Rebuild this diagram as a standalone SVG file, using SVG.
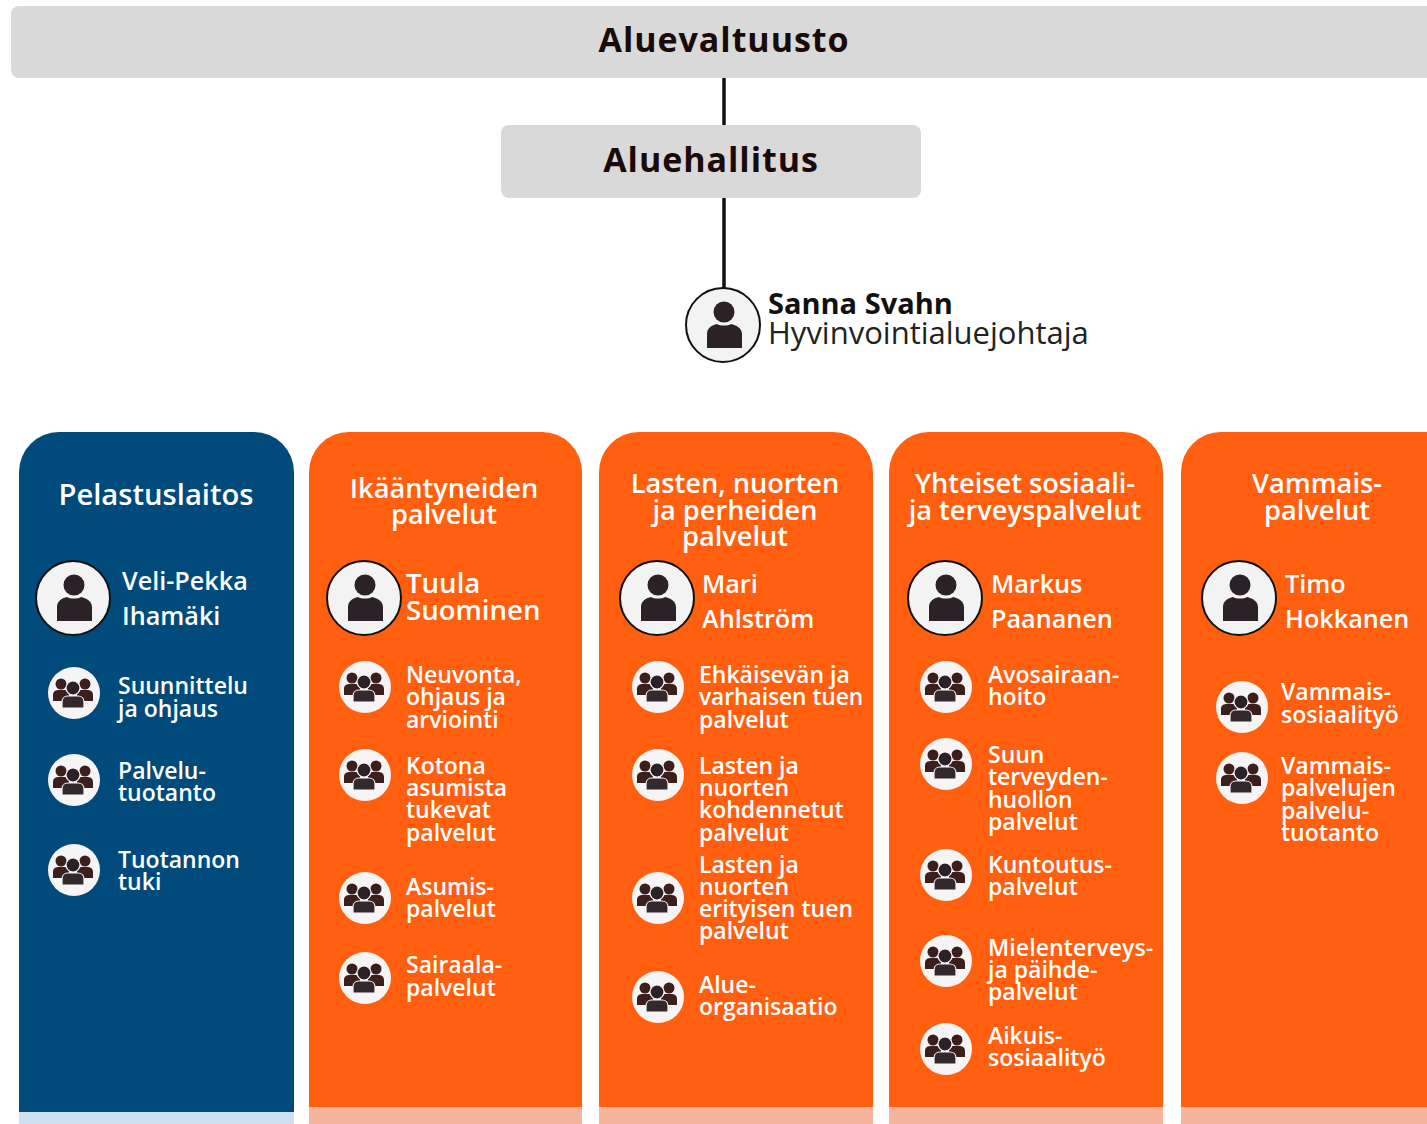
<svg xmlns="http://www.w3.org/2000/svg" width="1427" height="1124" viewBox="0 0 1427 1124">
<style>
text{font-family:"Open Sans","Noto Sans","Liberation Sans",sans-serif}
.bar{fill:#d9d9d9}
.conn{stroke:#111;stroke-width:3.5;fill:none}
.title{font-size:34px;font-weight:700;fill:#1a0a0a;text-anchor:middle;letter-spacing:.95px}
.hd{font-size:27.2px;font-weight:600;fill:#fff;text-anchor:middle}
.nm{font-size:25.2px;font-weight:600;fill:#fff}
.it{font-size:23px;font-weight:600;fill:#fff}
.blue{fill:#004a7c}.or{fill:#ff5f0f}
.blueS{fill:#cfe0f0}.orS{fill:#f6b49c}
.ic{fill:#2a2226}
</style>
<defs>
<g id="person">
<circle r="37" fill="#f4f3f3" stroke="#111" stroke-width="2"/>
<circle cx="1" cy="-13" r="10.5" class="ic"/>
<path class="ic" d="M-16 23V9c0-6 5-9 10-10 3 2 11 2 14 0 5 1 11 4 11 10v14z"/>
</g>
<g id="group">
<circle r="26" fill="#f6f4f4"/>
<circle cx="-13" cy="-9" r="5.5" fill="#3a1f1c"/><circle cx="11" cy="-9" r="5.5" fill="#3a1f1c"/>
<path fill="#3a1f1c" d="M-21 8V2c0-4 3-5 6-5h5c3 0 5 2 5 5v6zM3 8V2c0-3 2-5 5-5h5c3 0 6 1 6 5v6z"/>
<circle cx="-1" cy="-5" r="7" fill="#2a2226" stroke="#f6f4f4" stroke-width="1.2"/>
<path fill="#33282c" stroke="#f6f4f4" stroke-width="1.2" d="M-12 15V9c0-5 4-6 6-6h10c3 0 6 2 6 6v6z"/>
</g>
</defs>
<g id="connectors">
<path class="conn" d="M724 78V125M724 198V288"/>
</g>
<g id="aluevaltuusto">
<rect class="bar" x="11" y="6" width="1430" height="72" rx="8"/>
<text class="title" x="724" y="52">Aluevaltuusto</text>
</g>
<g id="aluehallitus">
<rect class="bar" x="501" y="125" width="420" height="73" rx="8"/>
<text class="title" x="711" y="172">Aluehallitus</text>
</g>
<g id="johtaja">
<use href="#person" x="723" y="325"/>
<text x="768" y="314" style="font-size:29px;font-weight:700;fill:#111">Sanna Svahn</text>
<text x="768" y="344" style="font-size:31px;fill:#222">Hyvinvointialuejohtaja</text>
</g>
<g id="pelastuslaitos">
<path class="blueS" d="M19 1100H294V1124H19z"/>
<path class="blue" d="M19 1112V472a40 40 0 0 1 40-40H254a40 40 0 0 1 40 40V1112z"/>
<text class="hd" x="156" y="505" style="font-size:29.2px">Pelastuslaitos</text>
<use href="#person" x="73" y="598"/>
<text class="nm" x="122" y="590">Veli-Pekka</text>
<text class="nm" x="122" y="625">Ihamäki</text>
<use href="#group" x="74" y="693"/>
<text class="it" x="118" y="694">Suunnittelu</text>
<text class="it" x="118" y="717">ja ohjaus</text>
<use href="#group" x="74" y="780"/>
<text class="it" x="118" y="779">Palvelu-</text>
<text class="it" x="118" y="801">tuotanto</text>
<use href="#group" x="74" y="870"/>
<text class="it" x="118" y="868">Tuotannon</text>
<text class="it" x="118" y="890">tuki</text>
</g>
<g id="ikaantyneiden">
<path class="orS" d="M309 1100H582V1124H309z"/>
<path class="or" d="M309 1107V472a40 40 0 0 1 40-40H542a40 40 0 0 1 40 40V1107z"/>
<text class="hd" x="444" y="498">Ikääntyneiden</text>
<text class="hd" x="444" y="524">palvelut</text>
<use href="#person" x="364" y="598"/>
<text class="nm" x="406" y="593" style="font-size:27.6px">Tuula</text>
<text class="nm" x="406" y="620" style="font-size:27.6px">Suominen</text>
<use href="#group" x="365" y="687"/>
<text class="it" x="406" y="683">Neuvonta,</text>
<text class="it" x="406" y="705">ohjaus ja</text>
<text class="it" x="406" y="728">arviointi</text>
<use href="#group" x="365" y="775"/>
<text class="it" x="406" y="774">Kotona</text>
<text class="it" x="406" y="796">asumista</text>
<text class="it" x="406" y="818">tukevat</text>
<text class="it" x="406" y="841">palvelut</text>
<use href="#group" x="365" y="898"/>
<text class="it" x="406" y="895">Asumis-</text>
<text class="it" x="406" y="917">palvelut</text>
<use href="#group" x="365" y="978"/>
<text class="it" x="406" y="973">Sairaala-</text>
<text class="it" x="406" y="996">palvelut</text>
</g>
<g id="lasten">
<path class="orS" d="M599 1100H873V1124H599z"/>
<path class="or" d="M599 1107V472a40 40 0 0 1 40-40H833a40 40 0 0 1 40 40V1107z"/>
<text class="hd" x="735" y="493">Lasten, nuorten</text>
<text class="hd" x="735" y="520">ja perheiden</text>
<text class="hd" x="735" y="546">palvelut</text>
<use href="#person" x="657" y="598"/>
<text class="nm" x="702" y="593">Mari</text>
<text class="nm" x="702" y="628">Ahlström</text>
<use href="#group" x="658" y="687"/>
<text class="it" x="699" y="683">Ehkäisevän ja</text>
<text class="it" x="699" y="705" style="font-size:22.7px">varhaisen tuen</text>
<text class="it" x="699" y="728">palvelut</text>
<use href="#group" x="658" y="775"/>
<text class="it" x="699" y="774">Lasten ja</text>
<text class="it" x="699" y="796">nuorten</text>
<text class="it" x="699" y="818">kohdennetut</text>
<text class="it" x="699" y="841">palvelut</text>
<use href="#group" x="658" y="898"/>
<text class="it" x="699" y="873">Lasten ja</text>
<text class="it" x="699" y="895">nuorten</text>
<text class="it" x="699" y="917">erityisen tuen</text>
<text class="it" x="699" y="939">palvelut</text>
<use href="#group" x="658" y="997"/>
<text class="it" x="699" y="993">Alue-</text>
<text class="it" x="699" y="1015">organisaatio</text>
</g>
<g id="yhteiset">
<path class="orS" d="M889 1100H1163V1124H889z"/>
<path class="or" d="M889 1107V472a40 40 0 0 1 40-40H1123a40 40 0 0 1 40 40V1107z"/>
<text class="hd" x="1025" y="493">Yhteiset sosiaali-</text>
<text class="hd" x="1025" y="520">ja terveyspalvelut</text>
<use href="#person" x="945" y="598"/>
<text class="nm" x="991" y="593">Markus</text>
<text class="nm" x="991" y="628">Paananen</text>
<use href="#group" x="946" y="687"/>
<text class="it" x="988" y="683">Avosairaan-</text>
<text class="it" x="988" y="705">hoito</text>
<use href="#group" x="946" y="764"/>
<text class="it" x="988" y="763">Suun</text>
<text class="it" x="988" y="785">terveyden-</text>
<text class="it" x="988" y="808">huollon</text>
<text class="it" x="988" y="830">palvelut</text>
<use href="#group" x="946" y="875"/>
<text class="it" x="988" y="873">Kuntoutus-</text>
<text class="it" x="988" y="895">palvelut</text>
<use href="#group" x="946" y="961"/>
<text class="it" x="988" y="956" style="letter-spacing:.1px">Mielenterveys-</text>
<text class="it" x="988" y="978">ja päihde-</text>
<text class="it" x="988" y="1000">palvelut</text>
<use href="#group" x="946" y="1049"/>
<text class="it" x="988" y="1044">Aikuis-</text>
<text class="it" x="988" y="1066">sosiaalityö</text>
</g>
<g id="vammais">
<path class="orS" d="M1181 1100H1440V1124H1181z"/>
<path class="or" d="M1181 1107V472a40 40 0 0 1 40-40H1440V1107z"/>
<text class="hd" x="1317" y="493">Vammais-</text>
<text class="hd" x="1317" y="520">palvelut</text>
<use href="#person" x="1239" y="598"/>
<text class="nm" x="1285" y="593">Timo</text>
<text class="nm" x="1285" y="628">Hokkanen</text>
<use href="#group" x="1242" y="707"/>
<text class="it" x="1281" y="700">Vammais-</text>
<text class="it" x="1281" y="723">sosiaalityö</text>
<use href="#group" x="1242" y="778"/>
<text class="it" x="1281" y="774">Vammais-</text>
<text class="it" x="1281" y="796">palvelujen</text>
<text class="it" x="1281" y="819">palvelu-</text>
<text class="it" x="1281" y="841">tuotanto</text>
</g>
</svg>
